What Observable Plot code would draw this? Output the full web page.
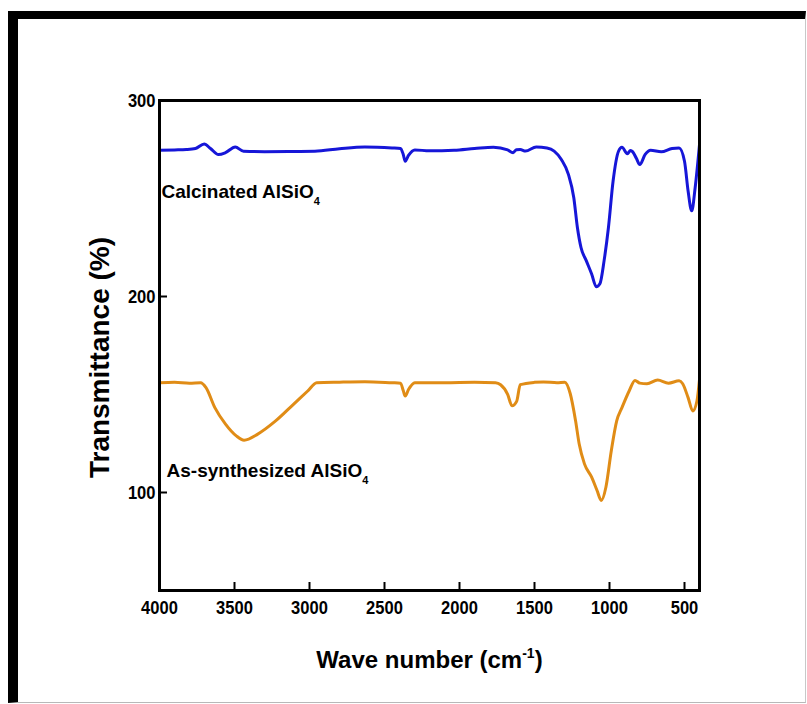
<!DOCTYPE html>
<html>
<head>
<meta charset="utf-8">
<script src="https://cdn.jsdelivr.net/npm/d3@7"></script>
<script src="https://cdn.jsdelivr.net/npm/@observablehq/plot@0.6"></script>
<style>
  html, body { margin: 0; padding: 0; background: #fff; }
  #wrap { position: relative; width: 807px; height: 704px; overflow: hidden; }
  #chart { position: absolute; left: 0; top: 0; }
  #border { position: absolute; left: 8px; top: 11px; width: 798px; height: 692px; box-sizing: border-box;
    border-left: 10px solid #000; border-top: 8px solid #000; border-right: 1px solid #c8c8c8; border-bottom: 1px solid #b8b8b8;
    pointer-events: none; }
</style>
</head>
<body>
<div id="wrap"><div id="chart"></div><div id="border"></div></div>
<script>
// Calcinated AlSiO4 (blue)
const calcWave = [4000, 3900, 3821, 3760, 3702, 3660, 3607, 3560, 3495, 3440, 3300, 3100, 2964, 2800, 2631, 2450, 2393, 2375, 2362, 2340, 2298, 2200, 2036, 1900, 1774, 1679, 1643, 1620, 1595, 1560, 1488, 1417, 1369, 1321, 1274, 1238, 1214, 1190, 1155, 1119, 1088, 1064, 1036, 1007, 976, 940, 917, 881, 860, 845, 821, 798, 762, 726, 655, 583, 536, 500, 476, 452, 429, 400];
const calcT = [274.6, 274.8, 275.0, 275.5, 277.8, 275.5, 272.4, 273.4, 276.3, 274.1, 273.9, 274.0, 274.1, 275.4, 276.3, 275.8, 275.5, 272.5, 269.0, 272.0, 274.8, 274.3, 274.6, 275.5, 276.2, 274.8, 273.4, 274.9, 275.0, 274.2, 276.3, 275.8, 274.2, 269.9, 262.3, 250.4, 235.2, 225.0, 218.3, 211.5, 205.0, 206.5, 218.3, 235.2, 258.9, 274.1, 276.1, 272.8, 274.5, 273.8, 270.5, 267.3, 272.5, 274.6, 273.8, 275.5, 275.8, 269.0, 253.8, 243.7, 255.5, 277.5];
// As-synthesized AlSiO4 (orange)
const synWave = [4000, 3900, 3800, 3726, 3690, 3631, 3560, 3488, 3436, 3345, 3226, 3107, 3012, 2952, 2800, 2631, 2450, 2393, 2375, 2362, 2340, 2298, 2100, 1900, 1760, 1726, 1679, 1650, 1619, 1595, 1500, 1440, 1350, 1298, 1262, 1226, 1202, 1167, 1119, 1083, 1055, 1024, 988, 952, 917, 869, 830, 798, 750, 679, 607, 536, 512, 476, 445, 417, 400];
const synT = [156.0, 156.3, 155.8, 156.0, 153.5, 143.3, 134.9, 128.9, 126.7, 129.8, 136.5, 145.0, 151.8, 156.0, 156.3, 156.5, 156.0, 155.8, 152.0, 149.2, 152.5, 156.0, 156.0, 156.2, 156.0, 155.0, 150.1, 144.2, 146.5, 155.0, 156.2, 156.4, 156.0, 156.3, 150.5, 136.5, 124.7, 114.6, 107.8, 101.0, 95.9, 102.7, 121.3, 136.5, 143.3, 151.8, 157.2, 155.8, 155.5, 157.4, 155.8, 157.0, 155.5, 148.4, 141.6, 146.7, 157.7];

const xTicks = [4000, 3500, 3000, 2500, 2000, 1500, 1000, 500];
const yTicks = [100, 200, 300];

const labelText = ["Calcinated AlSiO4", "As-synthesized AlSiO4"];
const labelWave = [3987, 3953];
const labelT = [253.3, 111.0];

const xTitle = "Wave number (cm-1)";
const yTitle = "Transmittance (%)";

const calc = calcWave.map((w, i) => ({wave: w, t: calcT[i]}));
const syn = synWave.map((w, i) => ({wave: w, t: synT[i]}));
const labels = labelText.map((s, i) => ({text: s, wave: labelWave[i], t: labelT[i]}));

const sans = "'Liberation Sans', Arial, sans-serif";

const chart = Plot.plot({
  width: 807, height: 704,
  marginLeft: 159, marginRight: 108, marginTop: 100, marginBottom: 114,
  style: {background: "transparent", overflow: "visible"},
  x: {domain: [4000, 400]},
  y: {domain: [50, 300]},
  marks: [
    Plot.line(calc, {x: "wave", y: "t", stroke: "#1616d8", strokeWidth: 3, curve: "monotone-x"}),
    Plot.line(syn, {x: "wave", y: "t", stroke: "#e08c16", strokeWidth: 3, curve: "monotone-x"}),
    Plot.frame({stroke: "#000", strokeWidth: 3}),
    Plot.axisX({ticks: xTicks, tickSize: -8, tickPadding: 18, strokeWidth: 2, tickFormat: d => String(d), label: null,
      fontSize: 19, fontWeight: "bold", fontFamily: sans, fill: "#000"}),
    Plot.axisY({ticks: yTicks, tickSize: -8, tickPadding: 12, strokeWidth: 2, tickFormat: d => String(d), label: null,
      fontSize: 19, fontWeight: "bold", fontFamily: sans, fill: "#000"}),
    Plot.text(labels, {x: "wave", y: "t", text: "text", textAnchor: "start", fontSize: 19, fontWeight: "bold", fontFamily: sans, fill: "#000"}),
    Plot.text([xTitle], {frameAnchor: "bottom", dy: 77, fontSize: 24, fontWeight: "bold", fontFamily: sans, fill: "#000"}),
    Plot.text([yTitle], {frameAnchor: "left", textAnchor: "middle", dx: -59, dy: 12, rotate: -90, fontSize: 28, fontWeight: "bold", fontFamily: sans, fill: "#000"})
  ]
});

// condensed tick labels and rich text (subscripts / superscripts)
const NS = "http://www.w3.org/2000/svg";
chart.querySelectorAll("text").forEach(t => {
  const s = t.textContent;
  if (/^\d+$/.test(s)) {
    const tr = t.getAttribute("transform");
    if (tr) t.setAttribute("transform", tr + " scale(0.87,1)");
    else {
      const x = +(t.getAttribute("x") || 0);
      t.setAttribute("transform", `translate(${x},0) scale(0.87,1) translate(${-x},0)`);
    }
  } else if (s.endsWith("AlSiO4")) {
    t.textContent = s.slice(0, -1);
    const sub = document.createElementNS(NS, "tspan");
    sub.setAttribute("dy", "7");
    sub.setAttribute("font-size", "11");
    sub.textContent = "4";
    t.appendChild(sub);
  } else if (s.endsWith("(cm-1)")) {
    t.textContent = s.slice(0, -3);
    const sup = document.createElementNS(NS, "tspan");
    sup.setAttribute("dy", "-10");
    sup.setAttribute("font-size", "14");
    sup.textContent = "-1";
    t.appendChild(sup);
    const close = document.createElementNS(NS, "tspan");
    close.setAttribute("dy", "10");
    close.textContent = ")";
    t.appendChild(close);
  }
});

document.getElementById("chart").appendChild(chart);
</script>
</body>
</html>
